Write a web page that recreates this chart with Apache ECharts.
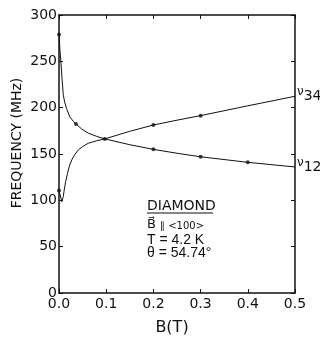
<!DOCTYPE html>
<html>
<head>
<meta charset="utf-8">
<script src="https://cdn.jsdelivr.net/npm/echarts@6/dist/echarts.min.js"></script>
<style>
html, body { margin: 0; padding: 0; background: #fff; }
#chart { width: 320px; height: 337px; }
</style>
</head>
<body>
<div id="chart"></div>
<script>
// traced curves [B (T), frequency (MHz)]
var nu12Curve = [[0, 279], [0.002, 262], [0.004, 250], [0.006, 234], [0.009, 214], [0.012, 206], [0.016, 199], [0.023, 190],
    [0.03, 185.5], [0.036, 182.5], [0.048, 177], [0.062, 172.5], [0.08, 169], [0.097, 166.3], [0.15, 160], [0.2, 155],
    [0.25, 150.8], [0.3, 147], [0.4, 141], [0.5, 136]]
var nu34Curve = [[0, 110.5], [0.006, 98.6], [0.009, 104], [0.011, 111], [0.014, 120], [0.018, 129], [0.022, 137], [0.027, 143.6],
    [0.033, 149], [0.041, 154.4], [0.05, 158], [0.062, 161.6], [0.08, 164.3], [0.097, 166.3], [0.15, 174.5], [0.2, 181.3],
    [0.25, 186.5], [0.3, 191.4], [0.4, 202], [0.5, 212.3]]
// measured points (dots)
var nu12Dots = [[0, 279], [0.036, 182.5], [0.097, 166.3], [0.2, 155], [0.3, 147], [0.4, 141]]
var nu34Dots = [[0, 110.5], [0.2, 181.3], [0.3, 191.4]]
var xTicks = [0, 0.1, 0.2, 0.3, 0.4, 0.5]
var yTicks = [0, 50, 100, 150, 200, 250, 300]

var font = 'DejaVu Sans'
var ink = '#111'

function mirrorX(pos, labels) {
    return {
        type: 'value', position: pos, min: xTicks[0], max: xTicks[xTicks.length - 1], interval: 0.1,
        axisLine: { show: true, onZero: false, lineStyle: { color: ink, width: 1.5 } },
        axisTick: { show: true, inside: true, length: 4, lineStyle: { color: ink, width: 1 } },
        axisLabel: { show: labels, color: ink, fontFamily: font, fontSize: 14, margin: 4,
            formatter: function (v) { return v.toFixed(1) } },
        splitLine: { show: false }
    }
}
function mirrorY(pos, labels) {
    return {
        type: 'value', position: pos, min: yTicks[0], max: yTicks[yTicks.length - 1], interval: 50,
        axisLine: { show: true, onZero: false, lineStyle: { color: ink, width: 1.5 } },
        axisTick: { show: true, inside: true, length: 4, lineStyle: { color: ink, width: 1 } },
        axisLabel: { show: labels, color: ink, fontFamily: font, fontSize: 14, margin: 2 },
        splitLine: { show: false }
    }
}

var xMain = mirrorX('bottom', true)
xMain.name = 'B(T)'
xMain.nameLocation = 'middle'
xMain.nameGap = 27
xMain.nameMoveOverlap = false
xMain.nameTextStyle = { color: ink, fontFamily: font, fontSize: 16, padding: [0, 10, 0, 0] }
var yMain = mirrorY('left', true)
yMain.name = 'FREQUENCY (MHz)'
yMain.nameLocation = 'middle'
yMain.nameGap = 35
yMain.nameMoveOverlap = false
yMain.nameTextStyle = { color: ink, fontFamily: font, fontSize: 14, padding: [0, 0, 0, 22] }

function curve(data, label) {
    return {
        type: 'line', data: data, showSymbol: false,
        lineStyle: { color: ink, width: 1 },
        endLabel: {
            show: true, distance: 2,
            formatter: '{v|ν}{n|' + label + '}',
            rich: {
                v: { fontFamily: font, fontSize: 12, color: ink, padding: [0, 0, 8, 0] },
                n: { fontFamily: font, fontSize: 14, color: ink }
            }
        },
        z: 3
    }
}
function dots(data) {
    return { type: 'scatter', data: data, symbolSize: 4, itemStyle: { color: ink }, z: 4 }
}

var chart = echarts.init(document.getElementById('chart'))
chart.setOption({
    backgroundColor: '#fff',
    animation: false,
    grid: { left: 59, right: 25, top: 15, bottom: 44, containLabel: false, outerBoundsMode: 'none' },
    xAxis: [xMain, mirrorX('top', false)],
    yAxis: [yMain, mirrorY('right', false)],
    series: [curve(nu12Curve, '12'), curve(nu34Curve, '34'), dots(nu12Dots), dots(nu34Dots)],
    graphic: [
        { type: 'text', left: 147, top: 199, style: { text: 'DIAMOND', font: '14px "DejaVu Sans"', fill: ink } },
        { type: 'line', shape: { x1: 147, y1: 213, x2: 213, y2: 213 }, style: { stroke: ink, lineWidth: 1.2 } },
        { type: 'text', left: 147, top: 218, style: { text: 'B\u20D7', font: '13px "DejaVu Sans"', fill: ink } },
        { type: 'text', left: 160, top: 221, style: { text: '\u2225 <100>', font: '10px "DejaVu Sans"', fill: ink } },
        { type: 'text', left: 147, top: 233, style: { text: 'T = 4.2 K', font: '14px "Liberation Sans"', fill: ink } },
        { type: 'text', left: 147, top: 246, style: { text: '\u03B8 = 54.74\u00B0', font: '14px "Liberation Sans"', fill: ink } }
    ]
})
</script>
</body>
</html>
